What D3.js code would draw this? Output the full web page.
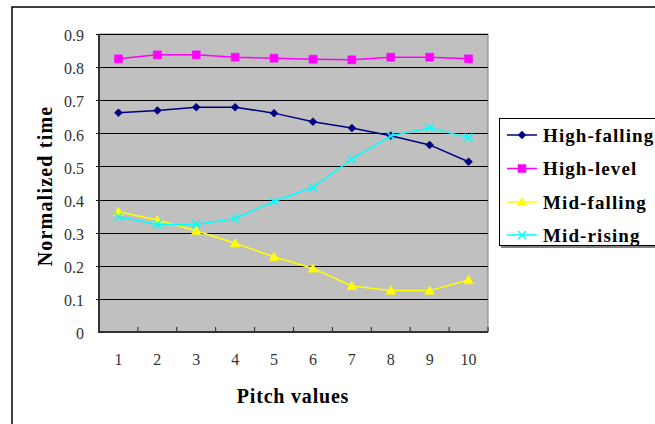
<!DOCTYPE html>
<html>
<head>
<meta charset="utf-8">
<script src="https://cdn.jsdelivr.net/npm/d3@7"></script>
<style>
  html, body { margin: 0; padding: 0; background: #fff; }
  svg { display: block; }
  svg text { font-family: "Liberation Serif", "Times New Roman", Times, serif; }
</style>
</head>
<body>
<svg id="chart" width="655" height="424"></svg>
<script>
// Pitch value categories along the x axis
const categories = ["1", "2", "3", "4", "5", "6", "7", "8", "9", "10"];

// Normalized time per tone type
const highFalling = [0.662, 0.669, 0.679, 0.679, 0.661, 0.635, 0.616, 0.593, 0.565, 0.514];
const highLevel   = [0.825, 0.837, 0.837, 0.830, 0.827, 0.824, 0.822, 0.830, 0.830, 0.825];
const midFalling  = [0.363, 0.338, 0.306, 0.268, 0.227, 0.192, 0.139, 0.125, 0.125, 0.157];
const midRising   = [0.348, 0.325, 0.325, 0.343, 0.394, 0.437, 0.522, 0.592, 0.617, 0.587];

const yTicks = [0, 0.1, 0.2, 0.3, 0.4, 0.5, 0.6, 0.7, 0.8, 0.9];
const yTickLabels = ["0", "0.1", "0.2", "0.3", "0.4", "0.5", "0.6", "0.7", "0.8", "0.9"];

const seriesNames = ["High-falling", "High-level", "Mid-falling", "Mid-rising"];
const seriesValues = [highFalling, highLevel, midFalling, midRising];
const seriesColors = ["#000080", "#FF00FF", "#FFFF00", "#00FFFF"];
const seriesMarkers = ["diamond", "square", "triangle", "cross"];

const FONT = '"Liberation Serif", "Times New Roman", Times, serif';

const svg = d3.select("#chart");
const plot = { left: 99, top: 34, right: 488, bottom: 332 };

const x = d3.scaleBand().domain(categories).range([plot.left, plot.right]).paddingInner(0).paddingOuter(0);
const y = d3.scaleLinear().domain([0, 0.9]).range([plot.bottom, plot.top]);

// Outer chart frame
svg.append("rect")
  .attr("x", 12).attr("y", 7)
  .attr("width", 660).attr("height", 430)
  .attr("fill", "none").attr("stroke", "#000").attr("stroke-width", 1.5);

// Plot background
svg.append("rect")
  .attr("x", plot.left).attr("y", plot.top)
  .attr("width", plot.right - plot.left).attr("height", plot.bottom - plot.top)
  .attr("fill", "#C0C0C0").attr("stroke", "#808080").attr("stroke-width", 1);

// Horizontal gridlines
svg.append("g").selectAll("line")
  .data(yTicks.filter(d => d > 0))
  .join("line")
  .attr("x1", plot.left - 3).attr("x2", plot.right)
  .attr("y1", d => Math.round(y(d)) + 0.5).attr("y2", d => Math.round(y(d)) + 0.5)
  .attr("stroke", "#000").attr("stroke-width", 1);

// Y axis labels
const yAxis = d3.axisLeft(y).tickValues(yTicks)
  .tickFormat((d, i) => yTickLabels[i]).tickSize(0).tickPadding(15);
const gy = svg.append("g").attr("transform", `translate(${plot.left},0)`).call(yAxis);
gy.attr("font-family", null);
gy.select(".domain").remove();
gy.selectAll("text")
  .style("font-family", FONT)
  .style("font-size", "16px").attr("fill", "#333").attr("dy", "0.42em");

// X axis labels and inward tick marks at category boundaries
const xAxis = d3.axisBottom(x).tickSize(0).tickPadding(22);
const gx = svg.append("g").attr("transform", `translate(0,${plot.bottom})`).call(xAxis);
gx.attr("font-family", null);
gx.select(".domain").remove();
gx.selectAll("text")
  .style("font-family", FONT)
  .style("font-size", "16px").attr("fill", "#333");

svg.append("g").selectAll("line")
  .data(categories.slice(1).concat(["end"]))
  .join("line")
  .attr("x1", d => d === "end" ? plot.right : x(d))
  .attr("x2", d => d === "end" ? plot.right : x(d))
  .attr("y1", plot.bottom - 5).attr("y2", plot.bottom)
  .attr("stroke", "#222").attr("stroke-width", 1);

// Axis lines
svg.append("line")
  .attr("x1", plot.left).attr("x2", plot.left)
  .attr("y1", plot.top).attr("y2", plot.bottom + 1)
  .attr("stroke", "#333").attr("stroke-width", 2);
svg.append("line")
  .attr("x1", plot.left - 1).attr("x2", plot.right)
  .attr("y1", plot.bottom).attr("y2", plot.bottom)
  .attr("stroke", "#333").attr("stroke-width", 2);

// Marker path generator
function markerPath(type, s) {
  switch (type) {
    case "diamond":
      return `M0,${-s}L${s},0L0,${s}L${-s},0Z`;
    case "square":
      return `M${-s},${-s}H${s}V${s}H${-s}Z`;
    case "triangle":
      return `M0,${-s * 1.1}L${s * 1.1},${s * 0.85}L${-s * 1.1},${s * 0.85}Z`;
    case "cross":
      return `M${-s},${-s}L${s},${s}M${-s},${s}L${s},${-s}`;
  }
}
const markerSize = { diamond: 4, square: 4, triangle: 4.4, cross: 4 };

const line = d3.line()
  .x((d, i) => x(categories[i]) + x.bandwidth() / 2)
  .y(d => y(d));

// Series lines and markers
seriesValues.forEach((vals, si) => {
  const g = svg.append("g");
  g.append("path")
    .datum(vals)
    .attr("d", line)
    .attr("fill", "none")
    .attr("stroke", seriesColors[si])
    .attr("stroke-width", 1.5);
  const mk = seriesMarkers[si];
  g.selectAll("path.m")
    .data(vals)
    .join("path")
    .attr("class", "m")
    .attr("transform", (d, i) => `translate(${x(categories[i]) + x.bandwidth() / 2},${y(d)})`)
    .attr("d", markerPath(mk, markerSize[mk]))
    .attr("fill", mk === "cross" ? "none" : seriesColors[si])
    .attr("stroke", seriesColors[si])
    .attr("stroke-width", mk === "cross" ? 1.5 : 0.5);
});

// Axis titles
svg.append("text")
  .attr("x", 293).attr("y", 403)
  .attr("text-anchor", "middle")
  .style("font-family", FONT)
  .style("font-weight", "bold").style("font-size", "20px")
  .attr("letter-spacing", 0.8)
  .attr("fill", "#000")
  .text("Pitch values");

svg.append("text")
  .attr("transform", "translate(52,186) rotate(-90)")
  .attr("text-anchor", "middle")
  .style("font-family", FONT)
  .style("font-weight", "bold").style("font-size", "20px")
  .attr("letter-spacing", 1.2)
  .attr("fill", "#000")
  .text("Normalized time");

// Legend
const legend = svg.append("g");
legend.append("rect")
  .attr("x", 501).attr("y", 120)
  .attr("width", 170).attr("height", 128)
  .attr("fill", "#808080");
legend.append("rect")
  .attr("x", 499.5).attr("y", 118.5)
  .attr("width", 170).attr("height", 127)
  .attr("fill", "#fff").attr("stroke", "#000").attr("stroke-width", 1);

const rowY = [135, 168.5, 202, 235];
seriesNames.forEach((name, si) => {
  const ry = rowY[si];
  legend.append("line")
    .attr("x1", 507).attr("x2", 537)
    .attr("y1", ry).attr("y2", ry)
    .attr("stroke", seriesColors[si]).attr("stroke-width", 1.5);
  const mk = seriesMarkers[si];
  legend.append("path")
    .attr("transform", `translate(522,${ry})`)
    .attr("d", markerPath(mk, markerSize[mk]))
    .attr("fill", mk === "cross" ? "none" : seriesColors[si])
    .attr("stroke", seriesColors[si])
    .attr("stroke-width", mk === "cross" ? 1.5 : 0.5);
  legend.append("text")
    .attr("x", 543).attr("y", ry)
    .attr("dy", "0.35em")
    .style("font-family", FONT)
    .style("font-weight", "bold").style("font-size", "19px")
    .attr("letter-spacing", 1.1)
    .attr("fill", "#000")
    .text(name);
});
</script>
</body>
</html>
